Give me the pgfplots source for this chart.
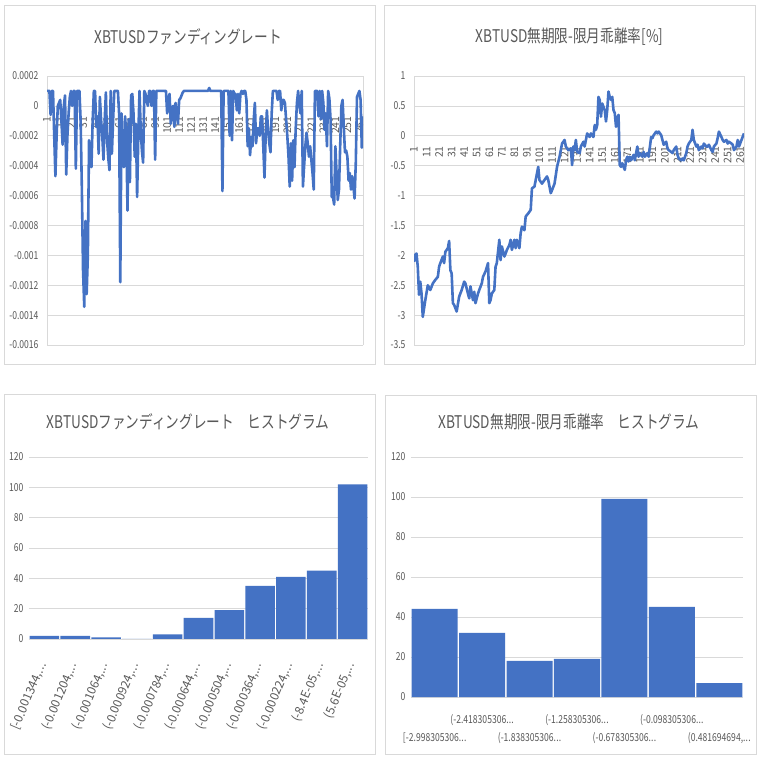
\documentclass[border=0pt]{standalone}
\usepackage{fontspec}
\setmainfont{Noto Sans CJK JP}[FakeStretch=0.78]
\newfontfamily\rotfont{Noto Sans CJK JP}
\usepackage{pgfplots}
\pgfplotsset{compat=1.18}
\newcommand\dd{.\kern0.2pt.\kern0.2pt.}
\definecolor{xlblue}{HTML}{4472C4}
\definecolor{xlgrid}{HTML}{D9D9D9}
\definecolor{xltext}{HTML}{595959}
\pgfplotsset{
  xlbase/.style={
    scale only axis,
    anchor=south west,
    /pgf/number format/assume math mode=true,
    scaled y ticks=false,
    scaled x ticks=false,
    tick style={draw=none},
    major tick length=0pt,
    ymajorgrids,
    grid style={draw=xlgrid, line width=0.75pt},
    tick label style={font=\fontsize{11}{13}\selectfont, text=xltext},
    hide obscured x ticks=false,
    hide obscured y ticks=false,
  },
}
\pgfplotstableread{
i v
1 1.0e-4
3 1.0e-4
4 -0.6e-4
5 1.0e-4
6 1.0e-4
7 -2.0e-4
8 -4.7e-4
9 -2.0e-4
10 0.0
11 0.2e-4
12 0.4e-4
13 -1.0e-4
14 -2.6e-4
15 0.0
16 0.7e-4
17 -4.6e-4
18 -2.0e-4
19 -0.5e-4
20 0.6e-4
21 1.0e-4
22 0.0
23 1.0e-4
24 1.0e-4
25 -4.2e-4
26 1.0e-4
28 1.0e-4
29 -1.0e-4
30 -5.5e-4
31 -11.0e-4
32 -13.44e-4
33 -7.7e-4
34 -12.6e-4
35 -10.0e-4
36 -2.3e-4
37 -3.1e-4
38 -4.1e-4
39 -1.0e-4
40 1.0e-4
41 1.0e-4
42 -1.4e-4
43 -0.7e-4
44 -3.2e-4
45 0.6e-4
46 -0.9e-4
47 -2.0e-4
48 -3.6e-4
49 -1.0e-4
50 0.9e-4
51 -2.3e-4
52 -3.5e-4
53 -4.3e-4
54 1.0e-4
55 -3.2e-4
56 -1.0e-4
57 1.0e-4
60 1.0e-4
61 -0.5e-4
62 -11.8e-4
63 -0.5e-4
64 -3.6e-4
65 -4.1e-4
66 -0.7e-4
67 -2.0e-4
68 -7.0e-4
69 -0.9e-4
70 -5.1e-4
71 0.7e-4
72 0.8e-4
73 -0.5e-4
74 -3.4e-4
75 -1.2e-4
76 -6.1e-4
77 -2.0e-4
78 1.0e-4
79 -1.6e-4
80 -3.0e-4
81 -3.8e-4
82 1.0e-4
83 0.8e-4
84 0.3e-4
85 0.0
86 1.0e-4
87 1.0e-4
88 0.0
89 1.0e-4
90 1.0e-4
91 -3.6e-4
92 1.0e-4
100 1.0e-4
101 -0.5e-4
102 0.5e-4
103 0.8e-4
104 -1.2e-4
105 -0.2e-4
106 0.0
107 -1.4e-4
108 0.2e-4
109 -0.5e-4
110 -1.2e-4
111 0.4e-4
112 0.5e-4
113 0.7e-4
114 0.9e-4
115 1.0e-4
135 1.0e-4
136 1.2e-4
137 1.0e-4
146 1.0e-4
147 -5.7e-4
148 1.0e-4
152 1.0e-4
153 -2.0e-4
154 1.0e-4
155 -2.3e-4
156 1.0e-4
157 0.8e-4
158 0.8e-4
159 -0.3e-4
160 0.8e-4
161 -0.5e-4
162 0.8e-4
163 1.0e-4
164 0.8e-4
165 1.0e-4
166 1.0e-4
167 0.4e-4
168 -2.7e-4
169 -1.5e-4
170 -3.3e-4
171 -2.1e-4
172 -2.7e-4
173 -1.0e-4
174 0.2e-4
175 -2.5e-4
176 -1.5e-4
177 -1.5e-4
178 -2.0e-4
179 -0.7e-4
180 -0.7e-4
181 -2.7e-4
182 -4.8e-4
183 -2.0e-4
184 -0.3e-4
185 -1.6e-4
186 -2.5e-4
187 -3.1e-4
188 -0.5e-4
189 1.0e-4
191 1.0e-4
192 1.0e-4
193 0.4e-4
194 1.0e-4
195 1.0e-4
196 -0.3e-4
197 0.4e-4
198 0.4e-4
199 0.2e-4
200 -0.9e-4
201 -2.0e-4
202 -3.4e-4
203 -5.4e-4
204 -2.5e-4
205 -5.0e-4
206 -2.3e-4
207 -4.1e-4
208 -1.5e-4
209 0.2e-4
210 1.0e-4
211 0.0
212 -0.5e-4
213 1.0e-4
214 -5.4e-4
215 -4.0e-4
216 -2.7e-4
217 -1.8e-4
218 -2.5e-4
219 -3.4e-4
220 -2.7e-4
221 -3.6e-4
222 -4.5e-4
223 -5.6e-4
224 1.0e-4
226 1.0e-4
227 -0.7e-4
228 1.0e-4
229 -0.9e-4
230 1.0e-4
231 0.2e-4
232 -1.6e-4
233 -0.5e-4
234 -2.7e-4
235 1.0e-4
236 0.5e-4
237 -0.9e-4
238 -6.1e-4
239 -6.1e-4
240 -6.6e-4
241 -2.7e-4
242 -4.5e-4
243 -6.3e-4
244 -5.6e-4
245 -2.7e-4
246 0.0
247 0.4e-4
248 -1.4e-4
249 -3.1e-4
250 -3.0e-4
251 -3.4e-4
252 -5.0e-4
253 -4.5e-4
254 -5.6e-4
255 -4.7e-4
256 -5.4e-4
257 -6.2e-4
258 -3.8e-4
259 0.6e-4
260 0.8e-4
261 1.0e-4
262 0.4e-4
263 -2.8e-4
264 -0.7e-4
}\fundingtable
\pgfplotstableread{
i v
1 -2.11
2 -1.99
3 -1.97
4 -2.19
5 -2.66
6 -2.44
7 -2.64
8 -3.03
10 -2.75
12 -2.50
14 -2.58
16 -2.47
18 -2.41
20 -2.36
21 -2.19
22 -2.13
24 -2.02
25 -2.13
26 -1.94
28 -1.88
29 -1.76
30 -2.25
31 -2.30
32 -2.80
33 -2.83
35 -2.94
37 -2.69
39 -2.58
41 -2.44
42 -2.47
44 -2.64
45 -2.72
46 -2.52
48 -2.75
49 -2.61
50 -2.80
52 -2.64
53 -2.58
55 -2.47
56 -2.36
58 -2.27
60 -2.13
61 -2.80
62 -2.75
63 -2.64
65 -2.58
66 -2.19
67 -2.13
69 -1.74
70 -2.08
71 -1.85
73 -2.02
74 -1.97
75 -1.91
77 -1.83
78 -1.74
79 -1.91
81 -1.74
82 -1.88
83 -1.74
85 -1.88
86 -1.63
87 -1.52
89 -1.58
90 -1.35
92 -1.30
94 -1.24
95 -0.88
97 -0.85
98 -0.74
99 -0.63
100 -0.52
101 -0.74
103 -0.80
105 -0.74
107 -0.68
108 -0.74
110 -0.96
111 -0.91
113 -0.80
115 -0.52
117 -0.35
119 -0.13
121 -0.07
122 -0.18
124 -0.24
126 -0.21
127 -0.49
128 -0.18
129 -0.24
130 -0.07
131 -0.27
133 -0.29
134 -0.18
136 -0.10
137 -0.18
139 0.04
141 -0.02
142 0.04
144 -0.02
145 0.18
146 0.10
147 0.18
148 0.65
149 0.60
150 0.32
151 0.54
153 0.43
154 0.24
155 0.43
156 0.74
157 0.65
158 0.60
159 0.65
160 0.43
161 0.38
162 0.15
163 0.29
164 0.35
165 -0.49
166 -0.52
167 -0.46
169 -0.57
170 -0.41
171 -0.35
172 -0.43
173 -0.35
174 -0.41
176 -0.32
177 -0.41
178 -0.29
179 -0.18
180 -0.35
181 -0.29
183 -0.35
184 -0.27
185 -0.35
187 -0.29
188 -0.35
190 -0.02
191 -0.04
192 0.01
194 0.07
195 0.04
196 0.07
198 0.01
199 -0.07
200 -0.15
202 -0.10
203 -0.21
204 -0.24
206 -0.27
207 -0.29
208 -0.24
210 -0.18
211 -0.32
212 -0.38
214 -0.41
215 -0.38
216 -0.41
218 -0.29
219 -0.18
220 -0.13
222 -0.07
223 0.10
224 -0.07
226 -0.18
227 -0.15
228 -0.24
230 -0.18
231 -0.21
232 -0.13
234 -0.18
235 -0.18
236 -0.15
238 -0.24
239 -0.27
240 -0.18
242 -0.13
243 -0.04
244 0.07
246 -0.02
247 -0.07
248 -0.10
250 -0.07
251 -0.13
252 -0.10
254 -0.13
255 -0.15
256 -0.24
258 -0.18
259 -0.07
260 -0.18
262 -0.07
264 0.04
}\premiumtable
\begin{document}
\begin{tikzpicture}
\useasboundingbox (0pt,0pt) rectangle (758pt,758pt);
\fill[white] (0pt,0pt) rectangle (758pt,758pt);
% panel borders
\draw[xlgrid, line width=0.8pt] (4pt,394pt) rectangle (375pt,753pt);
\draw[xlgrid, line width=0.8pt] (384pt,394pt) rectangle (755pt,753pt);
\draw[xlgrid, line width=0.8pt] (4pt,4pt) rectangle (375pt,364pt);
\draw[xlgrid, line width=0.8pt] (385pt,4pt) rectangle (756pt,363pt);
% titles
\node[font=\fontsize{17.5}{20}\selectfont, text=xltext] at (188pt,721pt) {XBTUSDファンディングレート};
\node[font=\fontsize{17.5}{20}\selectfont, text=xltext] at (569.5pt,721pt) {XBTUSD無期限-限月乖離率[\%]};
\node[font=\fontsize{17.5}{20}\selectfont, text=xltext] at (188pt,336pt) {XBTUSDファンディングレート　ヒストグラム};
\node[font=\fontsize{17.5}{20}\selectfont, text=xltext] at (569pt,336pt) {XBTUSD無期限-限月乖離率　ヒストグラム};

% chart 1
\begin{axis}[xlbase, at={(47pt,413pt)}, width=316pt, height=269pt,
  xmin=1, xmax=264, ymin=-0.0016, ymax=0.0002,
  axis x line=middle, axis y line=box,
  axis line style={-, draw=xlgrid, line width=0.75pt},
  xtick={1,11,...,261},
  xticklabel shift=7pt,
  xticklabel style={rotate=90, anchor=east, font=\rotfont\fontsize{10.5}{12}\selectfont},
  ytick={-0.0016,-0.0014,-0.0012,-0.001,-0.0008,-0.0006,-0.0004,-0.0002,0,0.0002},
  yticklabels={-0.0016,-0.0014,-0.0012,-0.001,-0.0008,-0.0006,-0.0004,-0.0002,0,0.0002},
  yticklabel style={xshift=-5pt},
]
\addplot[xlblue, line width=2.6pt, line join=round] table[x=i, y=v] {\fundingtable};
\end{axis}

% chart 2
\begin{axis}[xlbase, at={(414pt,413pt)}, width=330pt, height=269pt,
  xmin=1, xmax=264, ymin=-3.5, ymax=1,
  axis x line=middle, axis y line=box,
  axis line style={-, draw=xlgrid, line width=0.75pt},
  xtick={1,11,...,261},
  xticklabel shift=7pt,
  xticklabel style={rotate=90, anchor=east, font=\rotfont\fontsize{10.5}{12}\selectfont},
  ytick={-3.5,-3,-2.5,-2,-1.5,-1,-0.5,0,0.5,1},
  yticklabels={-3.5,-3,-2.5,-2,-1.5,-1,-0.5,0,0.5,1},
  yticklabel style={xshift=-5pt},
]
\addplot[xlblue, line width=2.6pt, line join=round] table[x=i, y=v] {\premiumtable};
\end{axis}

% chart 3
\begin{axis}[xlbase, at={(29pt,119pt)}, width=339pt, height=182pt,
  xmin=-0.5, xmax=10.5, ymin=0, ymax=120,
  ybar, bar width=0.96,
  axis line style={draw=none},
  ytick={0,20,40,60,80,100,120},
  yticklabel style={xshift=-2pt},
  xtick={0,1,2,3,4,5,6,7,8,9,10},
  xticklabels={{[-0.001344,\dd},{(-0.001204,\dd},{(-0.001064,\dd},{(-0.000924,\dd},{(-0.000784,\dd},{(-0.000644,\dd},{(-0.000504,\dd},{(-0.000364,\dd},{(-0.000224,\dd},{(-8.4E-05,\dd},{(5.6E-05,\dd}},
  xticklabel shift=21pt,
  xticklabel style={rotate=67, anchor=east, font=\rotfont\fontsize{12}{14}\selectfont},
]
\addplot[fill=xlblue, draw=none] coordinates {(0,2) (1,2) (2,1) (3,0) (4,3) (5,14) (6,19) (7,35) (8,41) (9,45) (10,102)};
\end{axis}

% chart 4
\begin{axis}[xlbase, at={(411pt,61pt)}, width=332pt, height=240pt,
  xmin=-0.5, xmax=6.5, ymin=0, ymax=120,
  ybar, bar width=0.97,
  axis line style={draw=none},
  ytick={0,20,40,60,80,100,120},
  yticklabel style={xshift=-2pt},
  xtick={0,1,2,3,4,5,6},
  xticklabels={{\raisebox{-18pt}[0pt][0pt]{[-2.998305306\dd}},{(-2.418305306\dd},{\raisebox{-18pt}[0pt][0pt]{(-1.838305306\dd}},{(-1.258305306\dd},{\raisebox{-18pt}[0pt][0pt]{(-0.678305306\dd}},{(-0.098305306\dd},{\raisebox{-18pt}[0pt][0pt]{(0.481694694,\dd}}},
  xticklabel style={anchor=base, yshift=-26pt},
]
\addplot[fill=xlblue, draw=none] coordinates {(0,44) (1,32) (2,18) (3,19) (4,99) (5,45) (6,7)};
\end{axis}
\end{tikzpicture}
\end{document}
